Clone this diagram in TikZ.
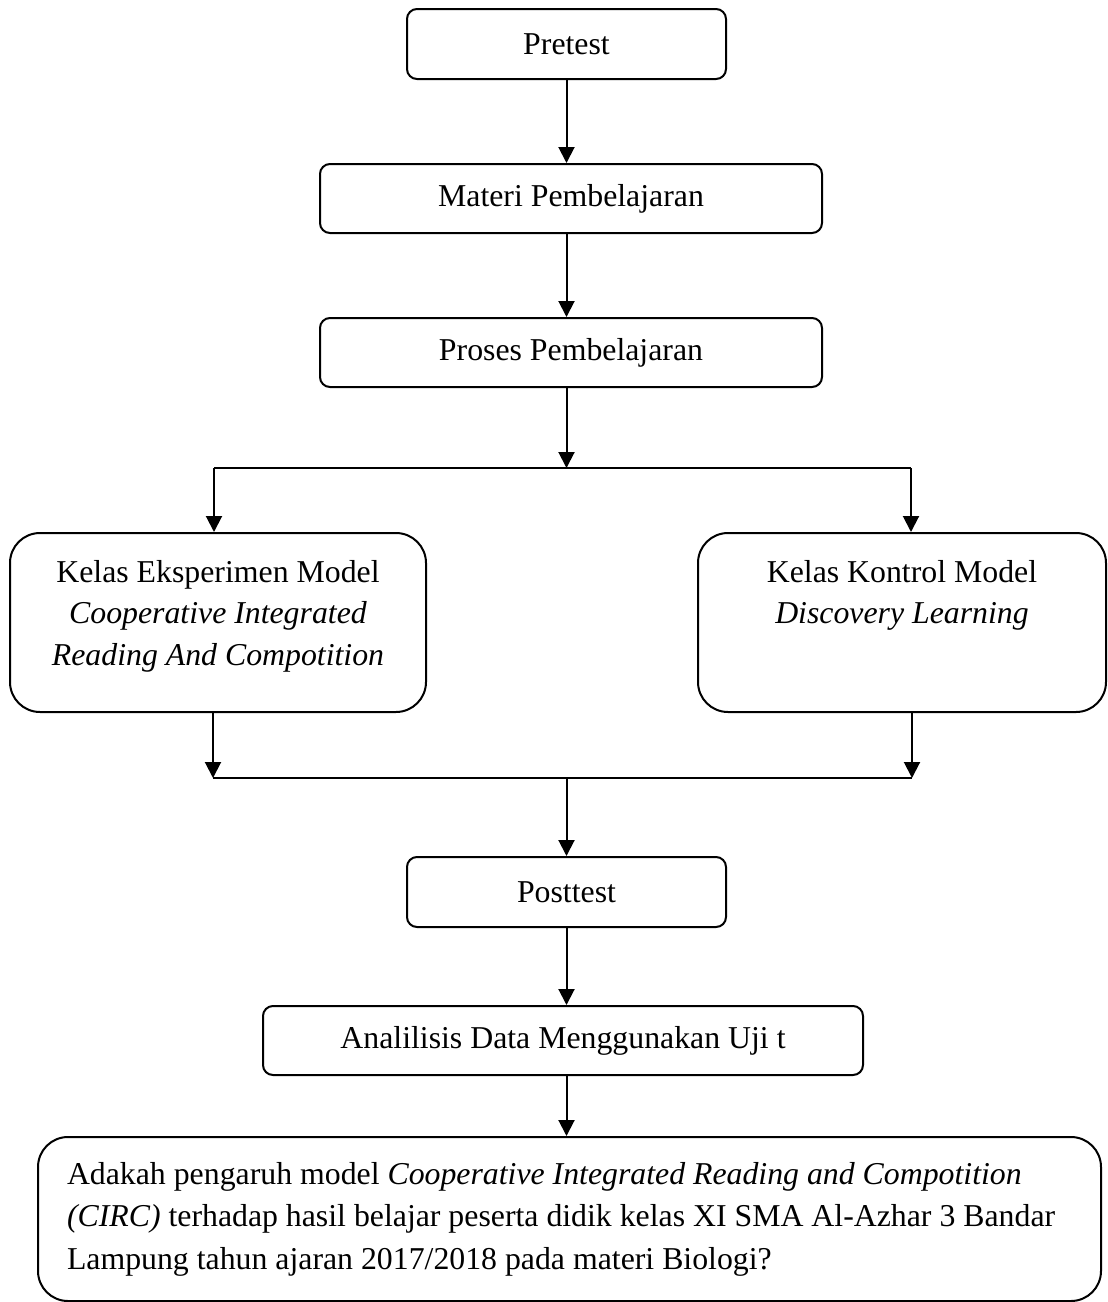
\documentclass[tikz,border=0pt]{standalone}
\usepackage{fontspec}
\setmainfont{Liberation Serif}
\usetikzlibrary{arrows.meta}
\tikzstyle{step box}=[draw,line width=2pt,rounded corners=10pt,inner sep=0pt,
  font=\fontsize{31.8pt}{41.5pt}\selectfont]
\tikzstyle{class box}=[step box,rounded corners=30pt,inner xsep=0pt,inner ysep=27pt]
\tikzstyle{line}=[draw,line width=2pt]
\tikzstyle{flow}=[line,-{Triangle[length=16pt,width=16pt]}]

\begin{document}
\begin{tikzpicture}[x=1pt,y=-1pt]
			\useasboundingbox (0,0) rectangle (1108,1302);

			% the steps down the middle
			\node[step box, minimum width=319pt, minimum height=70pt] (pretest) at (566.5,44) {Pretest};
			\node[step box, minimum width=502pt, minimum height=69pt] (materi) at (571,198.5) {Materi Pembelajaran};
			\node[step box, minimum width=502pt, minimum height=69pt] (proses) at (571,352.5) {Proses Pembelajaran};

			% the two classes
			\node[class box, minimum width=416pt] (eksp) at (218,622.5)
				{\parbox[c][125pt][t]{400pt}{\centering Kelas Eksperimen Model\\
				\textit{Cooperative Integrated}\\ \textit{Reading And Compotition}}};
			\node[class box, minimum width=408pt] (kontrol) at (902,622.5)
				{\parbox[c][125pt][t]{400pt}{\centering Kelas Kontrol Model\\
				\textit{Discovery Learning}}};

			\node[step box, minimum width=319pt, minimum height=70pt] (posttest) at (566.5,892) {Posttest};
			\node[step box, minimum width=600pt, minimum height=69pt] (analisis) at (563,1040.5) {Analilisis Data Menggunakan Uji t};
			\node[step box, rounded corners=30pt, anchor=north west, align=flush left,
				text width=1005pt, inner xsep=29pt, minimum height=164pt,
				font=\fontsize{31.8pt}{42.5pt}\selectfont] (hasil) at (37,1136)
				{Adakah pengaruh model \textit{Cooperative Integrated Reading and Compotition}\\
				\textit{(CIRC)} terhadap hasil belajar peserta didik kelas XI SMA Al-Azhar 3 Bandar\\
				Lampung tahun ajaran 2017/2018 pada materi Biologi?};

			% split and join points
			\coordinate (splitL) at (214,468);
			\coordinate (splitR) at (911,468);
			\coordinate (joinL) at (213,778);
			\coordinate (joinR) at (912,778);

			% connect the boxes
			\path[flow] (pretest) -- (materi.north -| pretest);
			\path[flow] (materi.south -| pretest) -- (proses.north -| pretest);
			\path[flow] (proses.south -| pretest) -- (splitL -| pretest);
			\path[line] (splitL) -- (splitR);
			\path[flow] (splitL) -- (splitL |- eksp.north);
			\path[flow] (splitR) -- (splitR |- kontrol.north);
			\path[flow] (eksp.south -| joinL) -- (joinL);
			\path[flow] (kontrol.south -| joinR) -- (joinR);
			\path[line] (joinL) -- (joinR);
			\path[flow] (joinL -| pretest) -- (posttest.north -| pretest);
			\path[flow] (posttest) -- (analisis.north -| pretest);
			\path[flow] (analisis.south -| pretest) -- (hasil.north -| pretest);

		\end{tikzpicture}
\end{document}
